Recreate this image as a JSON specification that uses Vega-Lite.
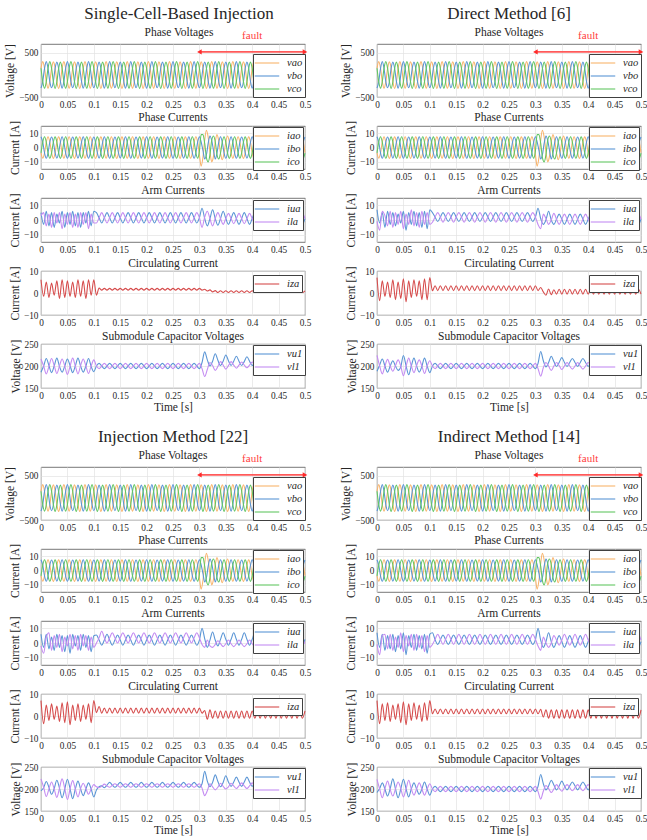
{
"$schema": "https://vega.github.io/schema/vega-lite/v6.json",
"padding": {"left": 4, "top": 4, "right": 0, "bottom": 0},
"background": "white",
"config": {
 "font": "Liberation Serif",
 "view": {"stroke": "#555555", "strokeWidth": 0.8},
 "line": {"strokeWidth": 1.1},
 "axis": {"labelFont": "Liberation Serif", "labelFontSize": 9.3, "labelColor": "#262626", "titleFont": "Liberation Serif", "titleFontSize": 11.5, "titleFontWeight": "normal", "titleColor": "#262626", "gridColor": "#e3e3e3", "gridWidth": 0.7, "domain": false, "ticks": false, "labelPadding": 3, "titlePadding": 3, "labelFlush": false, "labelOverlap": false},
 "axisX": {"tickCount": 10, "titlePadding": 1},
 "title": {"font": "Liberation Serif", "fontSize": 11.5, "fontWeight": "normal", "color": "#262626", "offset": -3, "anchor": "middle", "subtitleFont": "Liberation Serif", "subtitleColor": "#262626"},
 "legend": {"orient": "none", "fillColor": "white", "strokeColor": "#404040", "padding": 2, "symbolType": "M-2,0H2", "symbolSize": 150, "symbolOffset": 5, "symbolStrokeWidth": 1.3, "labelFont": "Liberation Serif", "labelFontSize": 10.5, "labelFontStyle": "italic", "labelColor": "#262626", "rowPadding": 0, "labelOffset": 13}
},
"datasets": {
"pv": [
{"t":0,"vao":150,"vbo":-300,"vco":150,"iao":-3.8,"ibo":7.5,"ico":-3.8},
{"t":0.0033,"vao":300,"vbo":-150,"vco":-150,"iao":-7.5,"ibo":3.8,"ico":3.8},
{"t":0.0067,"vao":150,"vbo":150,"vco":-300,"iao":-3.8,"ibo":-3.8,"ico":7.5},
{"t":0.01,"vao":-150,"vbo":300,"vco":-150,"iao":3.8,"ibo":-7.5,"ico":3.8},
{"t":0.0133,"vao":-300,"vbo":150,"vco":150,"iao":7.5,"ibo":-3.8,"ico":-3.8},
{"t":0.0167,"vao":-150,"vbo":-150,"vco":300,"iao":3.8,"ibo":3.8,"ico":-7.5},
{"t":0.02,"vao":140,"vbo":-290,"vco":155,"iao":-3.6,"ibo":7.3,"ico":-3.9},
{"t":0.0233,"vao":295,"vbo":-160,"vco":-140,"iao":-7.6,"ibo":3.9,"ico":3.6},
{"t":0.0267,"vao":160,"vbo":145,"vco":-305,"iao":-3.9,"ibo":-3.6,"ico":7.4},
{"t":0.03,"vao":-145,"vbo":290,"vco":-160,"iao":3.7,"ibo":-7.4,"ico":3.9},
{"t":0.0333,"vao":-305,"vbo":155,"vco":140,"iao":7.4,"ibo":-3.9,"ico":-3.6},
{"t":0.0367,"vao":-160,"vbo":-140,"vco":290,"iao":3.9,"ibo":3.6,"ico":-7.6},
{"t":0.04,"vao":150,"vbo":-300,"vco":150,"iao":-3.8,"ibo":7.5,"ico":-3.8},
{"t":0.0433,"vao":300,"vbo":-150,"vco":-150,"iao":-7.5,"ibo":3.8,"ico":3.8},
{"t":0.0467,"vao":150,"vbo":150,"vco":-300,"iao":-3.8,"ibo":-3.8,"ico":7.5},
{"t":0.05,"vao":-150,"vbo":300,"vco":-150,"iao":3.8,"ibo":-7.5,"ico":3.8},
{"t":0.0533,"vao":-300,"vbo":150,"vco":150,"iao":7.5,"ibo":-3.8,"ico":-3.8},
{"t":0.0567,"vao":-150,"vbo":-150,"vco":300,"iao":3.8,"ibo":3.8,"ico":-7.5},
{"t":0.06,"vao":140,"vbo":-290,"vco":155,"iao":-3.6,"ibo":7.3,"ico":-3.9},
{"t":0.0633,"vao":295,"vbo":-160,"vco":-140,"iao":-7.6,"ibo":3.9,"ico":3.6},
{"t":0.0667,"vao":160,"vbo":145,"vco":-305,"iao":-3.9,"ibo":-3.6,"ico":7.4},
{"t":0.07,"vao":-145,"vbo":290,"vco":-160,"iao":3.7,"ibo":-7.4,"ico":3.9},
{"t":0.0733,"vao":-305,"vbo":155,"vco":140,"iao":7.4,"ibo":-3.9,"ico":-3.6},
{"t":0.0767,"vao":-160,"vbo":-140,"vco":290,"iao":3.9,"ibo":3.6,"ico":-7.6},
{"t":0.08,"vao":150,"vbo":-300,"vco":150,"iao":-3.8,"ibo":7.5,"ico":-3.8},
{"t":0.0833,"vao":300,"vbo":-150,"vco":-150,"iao":-7.5,"ibo":3.8,"ico":3.8},
{"t":0.0867,"vao":150,"vbo":150,"vco":-300,"iao":-3.8,"ibo":-3.8,"ico":7.5},
{"t":0.09,"vao":-150,"vbo":300,"vco":-150,"iao":3.8,"ibo":-7.5,"ico":3.8},
{"t":0.0933,"vao":-300,"vbo":150,"vco":150,"iao":7.5,"ibo":-3.8,"ico":-3.8},
{"t":0.0967,"vao":-150,"vbo":-150,"vco":300,"iao":3.8,"ibo":3.8,"ico":-7.5},
{"t":0.1,"vao":140,"vbo":-290,"vco":155,"iao":-3.6,"ibo":7.3,"ico":-3.9},
{"t":0.1033,"vao":295,"vbo":-160,"vco":-140,"iao":-7.6,"ibo":3.9,"ico":3.6},
{"t":0.1067,"vao":160,"vbo":145,"vco":-305,"iao":-3.9,"ibo":-3.6,"ico":7.4},
{"t":0.11,"vao":-145,"vbo":290,"vco":-160,"iao":3.7,"ibo":-7.4,"ico":3.9},
{"t":0.1133,"vao":-305,"vbo":155,"vco":140,"iao":7.4,"ibo":-3.9,"ico":-3.6},
{"t":0.1167,"vao":-160,"vbo":-140,"vco":290,"iao":3.9,"ibo":3.6,"ico":-7.6},
{"t":0.12,"vao":150,"vbo":-300,"vco":150,"iao":-3.8,"ibo":7.5,"ico":-3.8},
{"t":0.1233,"vao":300,"vbo":-150,"vco":-150,"iao":-7.5,"ibo":3.8,"ico":3.8},
{"t":0.1267,"vao":150,"vbo":150,"vco":-300,"iao":-3.8,"ibo":-3.8,"ico":7.5},
{"t":0.13,"vao":-150,"vbo":300,"vco":-150,"iao":3.8,"ibo":-7.5,"ico":3.8},
{"t":0.1333,"vao":-300,"vbo":150,"vco":150,"iao":7.5,"ibo":-3.8,"ico":-3.8},
{"t":0.1367,"vao":-150,"vbo":-150,"vco":300,"iao":3.8,"ibo":3.8,"ico":-7.5},
{"t":0.14,"vao":140,"vbo":-290,"vco":155,"iao":-3.6,"ibo":7.3,"ico":-3.9},
{"t":0.1433,"vao":295,"vbo":-160,"vco":-140,"iao":-7.6,"ibo":3.9,"ico":3.6},
{"t":0.1467,"vao":160,"vbo":145,"vco":-305,"iao":-3.9,"ibo":-3.6,"ico":7.4},
{"t":0.15,"vao":-145,"vbo":290,"vco":-160,"iao":3.7,"ibo":-7.4,"ico":3.9},
{"t":0.1533,"vao":-305,"vbo":155,"vco":140,"iao":7.4,"ibo":-3.9,"ico":-3.6},
{"t":0.1567,"vao":-160,"vbo":-140,"vco":290,"iao":3.9,"ibo":3.6,"ico":-7.6},
{"t":0.16,"vao":150,"vbo":-300,"vco":150,"iao":-3.8,"ibo":7.5,"ico":-3.8},
{"t":0.1633,"vao":300,"vbo":-150,"vco":-150,"iao":-7.5,"ibo":3.8,"ico":3.8},
{"t":0.1667,"vao":150,"vbo":150,"vco":-300,"iao":-3.8,"ibo":-3.8,"ico":7.5},
{"t":0.17,"vao":-150,"vbo":300,"vco":-150,"iao":3.8,"ibo":-7.5,"ico":3.8},
{"t":0.1733,"vao":-300,"vbo":150,"vco":150,"iao":7.5,"ibo":-3.8,"ico":-3.8},
{"t":0.1767,"vao":-150,"vbo":-150,"vco":300,"iao":3.8,"ibo":3.8,"ico":-7.5},
{"t":0.18,"vao":140,"vbo":-290,"vco":155,"iao":-3.6,"ibo":7.3,"ico":-3.9},
{"t":0.1833,"vao":295,"vbo":-160,"vco":-140,"iao":-7.6,"ibo":3.9,"ico":3.6},
{"t":0.1867,"vao":160,"vbo":145,"vco":-305,"iao":-3.9,"ibo":-3.6,"ico":7.4},
{"t":0.19,"vao":-145,"vbo":290,"vco":-160,"iao":3.7,"ibo":-7.4,"ico":3.9},
{"t":0.1933,"vao":-305,"vbo":155,"vco":140,"iao":7.4,"ibo":-3.9,"ico":-3.6},
{"t":0.1967,"vao":-160,"vbo":-140,"vco":290,"iao":3.9,"ibo":3.6,"ico":-7.6},
{"t":0.2,"vao":150,"vbo":-300,"vco":150,"iao":-3.8,"ibo":7.5,"ico":-3.8},
{"t":0.2033,"vao":300,"vbo":-150,"vco":-150,"iao":-7.5,"ibo":3.8,"ico":3.8},
{"t":0.2067,"vao":150,"vbo":150,"vco":-300,"iao":-3.8,"ibo":-3.8,"ico":7.5},
{"t":0.21,"vao":-150,"vbo":300,"vco":-150,"iao":3.8,"ibo":-7.5,"ico":3.8},
{"t":0.2133,"vao":-300,"vbo":150,"vco":150,"iao":7.5,"ibo":-3.8,"ico":-3.8},
{"t":0.2167,"vao":-150,"vbo":-150,"vco":300,"iao":3.8,"ibo":3.8,"ico":-7.5},
{"t":0.22,"vao":140,"vbo":-290,"vco":155,"iao":-3.6,"ibo":7.3,"ico":-3.9},
{"t":0.2233,"vao":295,"vbo":-160,"vco":-140,"iao":-7.6,"ibo":3.9,"ico":3.6},
{"t":0.2267,"vao":160,"vbo":145,"vco":-305,"iao":-3.9,"ibo":-3.6,"ico":7.4},
{"t":0.23,"vao":-145,"vbo":290,"vco":-160,"iao":3.7,"ibo":-7.4,"ico":3.9},
{"t":0.2333,"vao":-305,"vbo":155,"vco":140,"iao":7.4,"ibo":-3.9,"ico":-3.6},
{"t":0.2367,"vao":-160,"vbo":-140,"vco":290,"iao":3.9,"ibo":3.6,"ico":-7.6},
{"t":0.24,"vao":150,"vbo":-300,"vco":150,"iao":-3.8,"ibo":7.5,"ico":-3.8},
{"t":0.2433,"vao":300,"vbo":-150,"vco":-150,"iao":-7.5,"ibo":3.8,"ico":3.8},
{"t":0.2467,"vao":150,"vbo":150,"vco":-300,"iao":-3.8,"ibo":-3.8,"ico":7.5},
{"t":0.25,"vao":-150,"vbo":300,"vco":-150,"iao":3.8,"ibo":-7.5,"ico":3.8},
{"t":0.2533,"vao":-300,"vbo":150,"vco":150,"iao":7.5,"ibo":-3.8,"ico":-3.8},
{"t":0.2567,"vao":-150,"vbo":-150,"vco":300,"iao":3.8,"ibo":3.8,"ico":-7.5},
{"t":0.26,"vao":140,"vbo":-290,"vco":155,"iao":-3.6,"ibo":7.3,"ico":-3.9},
{"t":0.2633,"vao":295,"vbo":-160,"vco":-140,"iao":-7.6,"ibo":3.9,"ico":3.6},
{"t":0.2667,"vao":160,"vbo":145,"vco":-305,"iao":-3.9,"ibo":-3.6,"ico":7.4},
{"t":0.27,"vao":-145,"vbo":290,"vco":-160,"iao":3.7,"ibo":-7.4,"ico":3.9},
{"t":0.2733,"vao":-305,"vbo":155,"vco":140,"iao":7.4,"ibo":-3.9,"ico":-3.6},
{"t":0.2767,"vao":-160,"vbo":-140,"vco":290,"iao":3.9,"ibo":3.6,"ico":-7.6},
{"t":0.28,"vao":150,"vbo":-300,"vco":150,"iao":-3.8,"ibo":7.5,"ico":-3.8},
{"t":0.2833,"vao":300,"vbo":-150,"vco":-150,"iao":-7.5,"ibo":3.8,"ico":3.8},
{"t":0.2867,"vao":150,"vbo":150,"vco":-300,"iao":-3.8,"ibo":-3.8,"ico":7.5},
{"t":0.29,"vao":-150,"vbo":300,"vco":-150,"iao":3.8,"ibo":-7.5,"ico":3.8},
{"t":0.2933,"vao":-300,"vbo":150,"vco":150,"iao":7.5,"ibo":-3.8,"ico":-3.8},
{"t":0.2967,"vao":-150,"vbo":-150,"vco":300,"iao":3.8,"ibo":3.8,"ico":-7.5},
{"t":0.3,"vao":140,"vbo":-290,"vco":155,"iao":-5,"ibo":7.5,"ico":-2.5},
{"t":0.3033,"vao":295,"vbo":-160,"vco":-140,"iao":-13,"ibo":4,"ico":9},
{"t":0.3067,"vao":160,"vbo":145,"vco":-305,"iao":-7,"ibo":-2,"ico":9},
{"t":0.31,"vao":-145,"vbo":290,"vco":-160,"iao":5,"ibo":-8,"ico":3},
{"t":0.3133,"vao":-305,"vbo":155,"vco":140,"iao":12,"ibo":-5,"ico":-7},
{"t":0.3167,"vao":-160,"vbo":-140,"vco":290,"iao":7,"ibo":3,"ico":-10},
{"t":0.32,"vao":150,"vbo":-300,"vco":150,"iao":-3,"ibo":8,"ico":-5},
{"t":0.3233,"vao":300,"vbo":-150,"vco":-150,"iao":-10,"ibo":5,"ico":5},
{"t":0.3267,"vao":150,"vbo":150,"vco":-300,"iao":-6,"ibo":-2,"ico":8},
{"t":0.33,"vao":-150,"vbo":300,"vco":-150,"iao":4,"ibo":-8,"ico":4},
{"t":0.3333,"vao":-300,"vbo":150,"vco":150,"iao":9,"ibo":-4,"ico":-5},
{"t":0.3367,"vao":-150,"vbo":-150,"vco":300,"iao":4.5,"ibo":3.8,"ico":-8},
{"t":0.34,"vao":140,"vbo":-290,"vco":155,"iao":-4,"ibo":7.5,"ico":-3.8},
{"t":0.3433,"vao":295,"vbo":-160,"vco":-140,"iao":-8.5,"ibo":3.8,"ico":3.8},
{"t":0.3467,"vao":160,"vbo":145,"vco":-305,"iao":-4,"ibo":-3.8,"ico":7.5},
{"t":0.35,"vao":-145,"vbo":290,"vco":-160,"iao":3.8,"ibo":-7.5,"ico":3.8},
{"t":0.3533,"vao":-305,"vbo":155,"vco":140,"iao":8,"ibo":-3.8,"ico":-3.8},
{"t":0.3567,"vao":-160,"vbo":-140,"vco":290,"iao":3.9,"ibo":3.6,"ico":-7.6},
{"t":0.36,"vao":150,"vbo":-300,"vco":150,"iao":-3.8,"ibo":7.5,"ico":-3.8},
{"t":0.3633,"vao":300,"vbo":-150,"vco":-150,"iao":-7.5,"ibo":3.8,"ico":3.8},
{"t":0.3667,"vao":150,"vbo":150,"vco":-300,"iao":-3.8,"ibo":-3.8,"ico":7.5},
{"t":0.37,"vao":-150,"vbo":300,"vco":-150,"iao":3.8,"ibo":-7.5,"ico":3.8},
{"t":0.3733,"vao":-300,"vbo":150,"vco":150,"iao":7.5,"ibo":-3.8,"ico":-3.8},
{"t":0.3767,"vao":-150,"vbo":-150,"vco":300,"iao":3.8,"ibo":3.8,"ico":-7.5},
{"t":0.38,"vao":140,"vbo":-290,"vco":155,"iao":-3.6,"ibo":7.3,"ico":-3.9},
{"t":0.3833,"vao":295,"vbo":-160,"vco":-140,"iao":-7.6,"ibo":3.9,"ico":3.6},
{"t":0.3867,"vao":160,"vbo":145,"vco":-305,"iao":-3.9,"ibo":-3.6,"ico":7.4},
{"t":0.39,"vao":-145,"vbo":290,"vco":-160,"iao":3.7,"ibo":-7.4,"ico":3.9},
{"t":0.3933,"vao":-305,"vbo":155,"vco":140,"iao":7.4,"ibo":-3.9,"ico":-3.6},
{"t":0.3967,"vao":-160,"vbo":-140,"vco":290,"iao":3.9,"ibo":3.6,"ico":-7.6},
{"t":0.4,"vao":150,"vbo":-300,"vco":150,"iao":-3.8,"ibo":7.5,"ico":-3.8},
{"t":0.4033,"vao":300,"vbo":-150,"vco":-150,"iao":-7.5,"ibo":3.8,"ico":3.8},
{"t":0.4067,"vao":150,"vbo":150,"vco":-300,"iao":-3.8,"ibo":-3.8,"ico":7.5},
{"t":0.41,"vao":-150,"vbo":300,"vco":-150,"iao":3.8,"ibo":-7.5,"ico":3.8},
{"t":0.4133,"vao":-300,"vbo":150,"vco":150,"iao":7.5,"ibo":-3.8,"ico":-3.8},
{"t":0.4167,"vao":-150,"vbo":-150,"vco":300,"iao":3.8,"ibo":3.8,"ico":-7.5},
{"t":0.42,"vao":140,"vbo":-290,"vco":155,"iao":-3.6,"ibo":7.3,"ico":-3.9},
{"t":0.4233,"vao":295,"vbo":-160,"vco":-140,"iao":-7.6,"ibo":3.9,"ico":3.6},
{"t":0.4267,"vao":160,"vbo":145,"vco":-305,"iao":-3.9,"ibo":-3.6,"ico":7.4},
{"t":0.43,"vao":-145,"vbo":290,"vco":-160,"iao":3.7,"ibo":-7.4,"ico":3.9},
{"t":0.4333,"vao":-305,"vbo":155,"vco":140,"iao":7.4,"ibo":-3.9,"ico":-3.6},
{"t":0.4367,"vao":-160,"vbo":-140,"vco":290,"iao":3.9,"ibo":3.6,"ico":-7.6},
{"t":0.44,"vao":150,"vbo":-300,"vco":150,"iao":-3.8,"ibo":7.5,"ico":-3.8},
{"t":0.4433,"vao":300,"vbo":-150,"vco":-150,"iao":-7.5,"ibo":3.8,"ico":3.8},
{"t":0.4467,"vao":150,"vbo":150,"vco":-300,"iao":-3.8,"ibo":-3.8,"ico":7.5},
{"t":0.45,"vao":-150,"vbo":300,"vco":-150,"iao":3.8,"ibo":-7.5,"ico":3.8},
{"t":0.4533,"vao":-300,"vbo":150,"vco":150,"iao":7.5,"ibo":-3.8,"ico":-3.8},
{"t":0.4567,"vao":-150,"vbo":-150,"vco":300,"iao":3.8,"ibo":3.8,"ico":-7.5},
{"t":0.46,"vao":140,"vbo":-290,"vco":155,"iao":-3.6,"ibo":7.3,"ico":-3.9},
{"t":0.4633,"vao":295,"vbo":-160,"vco":-140,"iao":-7.6,"ibo":3.9,"ico":3.6},
{"t":0.4667,"vao":160,"vbo":145,"vco":-305,"iao":-3.9,"ibo":-3.6,"ico":7.4},
{"t":0.47,"vao":-145,"vbo":290,"vco":-160,"iao":3.7,"ibo":-7.4,"ico":3.9},
{"t":0.4733,"vao":-305,"vbo":155,"vco":140,"iao":7.4,"ibo":-3.9,"ico":-3.6},
{"t":0.4767,"vao":-160,"vbo":-140,"vco":290,"iao":3.9,"ibo":3.6,"ico":-7.6},
{"t":0.48,"vao":150,"vbo":-300,"vco":150,"iao":-3.8,"ibo":7.5,"ico":-3.8},
{"t":0.4833,"vao":300,"vbo":-150,"vco":-150,"iao":-7.5,"ibo":3.8,"ico":3.8},
{"t":0.4867,"vao":150,"vbo":150,"vco":-300,"iao":-3.8,"ibo":-3.8,"ico":7.5},
{"t":0.49,"vao":-150,"vbo":300,"vco":-150,"iao":3.8,"ibo":-7.5,"ico":3.8},
{"t":0.4933,"vao":-300,"vbo":150,"vco":150,"iao":7.5,"ibo":-3.8,"ico":-3.8},
{"t":0.4967,"vao":-150,"vbo":-150,"vco":300,"iao":3.8,"ibo":3.8,"ico":-7.5},
{"t":0.5,"vao":140,"vbo":-290,"vco":155,"iao":-3.6,"ibo":7.3,"ico":-3.9}
],
"g1": [
{"t":0,"iua":5,"ila":3,"iza":6,"vu1":186,"vl1":216},
{"t":0.005,"iua":-3,"ila":5,"iza":-1.5,"vu1":200,"vl1":200},
{"t":0.01,"iua":6,"ila":-4,"iza":5,"vu1":217,"vl1":182},
{"t":0.015,"iua":-4,"ila":4,"iza":-2,"vu1":201,"vl1":199},
{"t":0.02,"iua":5,"ila":-5,"iza":4.5,"vu1":185,"vl1":217},
{"t":0.025,"iua":-5,"ila":5,"iza":-1,"vu1":200,"vl1":201},
{"t":0.03,"iua":4,"ila":-2,"iza":5.5,"vu1":218,"vl1":183},
{"t":0.035,"iua":-2,"ila":5,"iza":-2.5,"vu1":199,"vl1":200},
{"t":0.04,"iua":6,"ila":-6,"iza":6,"vu1":186,"vl1":216},
{"t":0.045,"iua":-5,"ila":4,"iza":-2,"vu1":200,"vl1":200},
{"t":0.05,"iua":5,"ila":-3,"iza":5.5,"vu1":216,"vl1":181},
{"t":0.055,"iua":-3,"ila":5,"iza":-1.5,"vu1":201,"vl1":199},
{"t":0.06,"iua":6,"ila":-5,"iza":5,"vu1":185,"vl1":218},
{"t":0.065,"iua":-4,"ila":4,"iza":-2,"vu1":200,"vl1":200},
{"t":0.07,"iua":5,"ila":-5,"iza":6,"vu1":218,"vl1":182},
{"t":0.075,"iua":-5,"ila":5,"iza":-1.5,"vu1":200,"vl1":201},
{"t":0.08,"iua":5,"ila":-3,"iza":5.5,"vu1":186,"vl1":216},
{"t":0.085,"iua":-2,"ila":5,"iza":-2.5,"vu1":200,"vl1":200},
{"t":0.09,"iua":6,"ila":-6,"iza":6,"vu1":217,"vl1":183},
{"t":0.095,"iua":-4,"ila":4,"iza":-1,"vu1":199,"vl1":200},
{"t":0.1,"iua":6,"ila":-2,"iza":6,"vu1":187,"vl1":214},
{"t":0.105,"iua":5,"ila":-2,"iza":-1,"vu1":200,"vl1":200},
{"t":0.11,"iua":1.5,"ila":1.5,"iza":2.2,"vu1":206,"vl1":194},
{"t":0.115,"iua":-2,"ila":5,"iza":1.3,"vu1":200,"vl1":200},
{"t":0.12,"iua":1.5,"ila":1.5,"iza":2.1,"vu1":194,"vl1":206},
{"t":0.125,"iua":5,"ila":-2,"iza":1.3,"vu1":200,"vl1":200},
{"t":0.13,"iua":1.5,"ila":1.5,"iza":2.1,"vu1":206,"vl1":194},
{"t":0.135,"iua":-2,"ila":5,"iza":1.3,"vu1":200,"vl1":200},
{"t":0.14,"iua":1.5,"ila":1.5,"iza":2.1,"vu1":194,"vl1":206},
{"t":0.145,"iua":5,"ila":-2,"iza":1.3,"vu1":200,"vl1":200},
{"t":0.15,"iua":1.5,"ila":1.5,"iza":2.1,"vu1":206,"vl1":194},
{"t":0.155,"iua":-2,"ila":5,"iza":1.3,"vu1":200,"vl1":200},
{"t":0.16,"iua":1.5,"ila":1.5,"iza":2.1,"vu1":194,"vl1":206},
{"t":0.165,"iua":5,"ila":-2,"iza":1.3,"vu1":200,"vl1":200},
{"t":0.17,"iua":1.5,"ila":1.5,"iza":2.1,"vu1":206,"vl1":194},
{"t":0.175,"iua":-2,"ila":5,"iza":1.3,"vu1":200,"vl1":200},
{"t":0.18,"iua":1.5,"ila":1.5,"iza":2.1,"vu1":194,"vl1":206},
{"t":0.185,"iua":5,"ila":-2,"iza":1.3,"vu1":200,"vl1":200},
{"t":0.19,"iua":1.5,"ila":1.5,"iza":2.1,"vu1":206,"vl1":194},
{"t":0.195,"iua":-2,"ila":5,"iza":1.3,"vu1":200,"vl1":200},
{"t":0.2,"iua":1.5,"ila":1.5,"iza":2.1,"vu1":194,"vl1":206},
{"t":0.205,"iua":5,"ila":-2,"iza":1.3,"vu1":200,"vl1":200},
{"t":0.21,"iua":1.5,"ila":1.5,"iza":2.1,"vu1":206,"vl1":194},
{"t":0.215,"iua":-2,"ila":5,"iza":1.3,"vu1":200,"vl1":200},
{"t":0.22,"iua":1.5,"ila":1.5,"iza":2.1,"vu1":194,"vl1":206},
{"t":0.225,"iua":5,"ila":-2,"iza":1.3,"vu1":200,"vl1":200},
{"t":0.23,"iua":1.5,"ila":1.5,"iza":2.1,"vu1":206,"vl1":194},
{"t":0.235,"iua":-2,"ila":5,"iza":1.3,"vu1":200,"vl1":200},
{"t":0.24,"iua":1.5,"ila":1.5,"iza":2.1,"vu1":194,"vl1":206},
{"t":0.245,"iua":5,"ila":-2,"iza":1.3,"vu1":200,"vl1":200},
{"t":0.25,"iua":1.5,"ila":1.5,"iza":2.1,"vu1":206,"vl1":194},
{"t":0.255,"iua":-2,"ila":5,"iza":1.3,"vu1":200,"vl1":200},
{"t":0.26,"iua":1.5,"ila":1.5,"iza":2.1,"vu1":194,"vl1":206},
{"t":0.265,"iua":5,"ila":-2,"iza":1.3,"vu1":200,"vl1":200},
{"t":0.27,"iua":1.5,"ila":1.5,"iza":2.1,"vu1":206,"vl1":194},
{"t":0.275,"iua":-2,"ila":5,"iza":1.3,"vu1":200,"vl1":200},
{"t":0.28,"iua":1.5,"ila":1.5,"iza":2.1,"vu1":194,"vl1":206},
{"t":0.285,"iua":5,"ila":-2,"iza":1.3,"vu1":200,"vl1":200},
{"t":0.29,"iua":1.5,"ila":1.5,"iza":2.1,"vu1":206,"vl1":194},
{"t":0.295,"iua":-2,"ila":5,"iza":1.3,"vu1":200,"vl1":200},
{"t":0.3,"iua":1.5,"ila":1.5,"iza":2.1,"vu1":194,"vl1":206},
{"t":0.305,"iua":8,"ila":-5,"iza":1.3,"vu1":208,"vl1":194},
{"t":0.31,"iua":1,"ila":2,"iza":1.7,"vu1":232,"vl1":176},
{"t":0.315,"iua":-4,"ila":6,"iza":0.9,"vu1":214,"vl1":192},
{"t":0.32,"iua":1,"ila":1,"iza":1.4,"vu1":200,"vl1":208},
{"t":0.325,"iua":7,"ila":-4,"iza":0.5,"vu1":211,"vl1":201},
{"t":0.33,"iua":1,"ila":1,"iza":1.1,"vu1":228,"vl1":190},
{"t":0.335,"iua":-3.5,"ila":5,"iza":0.2,"vu1":213,"vl1":199},
{"t":0.34,"iua":1,"ila":1,"iza":1,"vu1":201,"vl1":210},
{"t":0.345,"iua":6,"ila":-3,"iza":0.2,"vu1":211,"vl1":202},
{"t":0.35,"iua":1,"ila":1,"iza":1,"vu1":225,"vl1":193},
{"t":0.355,"iua":-3,"ila":4.5,"iza":0.2,"vu1":212,"vl1":201},
{"t":0.36,"iua":1,"ila":1,"iza":1,"vu1":201,"vl1":210},
{"t":0.365,"iua":5,"ila":-2.5,"iza":0.2,"vu1":211,"vl1":202},
{"t":0.37,"iua":1,"ila":1,"iza":1,"vu1":222,"vl1":195},
{"t":0.375,"iua":-3,"ila":4.5,"iza":0.2,"vu1":211,"vl1":202},
{"t":0.38,"iua":1,"ila":1,"iza":1,"vu1":201,"vl1":209},
{"t":0.385,"iua":5,"ila":-2.5,"iza":0.2,"vu1":210,"vl1":202},
{"t":0.39,"iua":1,"ila":1,"iza":1,"vu1":221,"vl1":196},
{"t":0.395,"iua":-3,"ila":4.5,"iza":0.2,"vu1":211,"vl1":202},
{"t":0.4,"iua":1,"ila":1,"iza":1,"vu1":201,"vl1":209},
{"t":0.405,"iua":5,"ila":-2.5,"iza":0.2,"vu1":210,"vl1":202},
{"t":0.41,"iua":1,"ila":1,"iza":1,"vu1":220,"vl1":196},
{"t":0.415,"iua":-3,"ila":4.5,"iza":0.2,"vu1":210,"vl1":202},
{"t":0.42,"iua":1,"ila":1,"iza":1,"vu1":201,"vl1":209},
{"t":0.425,"iua":5,"ila":-2.5,"iza":0.2,"vu1":210,"vl1":202},
{"t":0.43,"iua":1,"ila":1,"iza":1,"vu1":220,"vl1":196},
{"t":0.435,"iua":-3,"ila":4.5,"iza":0.2,"vu1":210,"vl1":202},
{"t":0.44,"iua":1,"ila":1,"iza":1,"vu1":201,"vl1":209},
{"t":0.445,"iua":5,"ila":-2.5,"iza":0.2,"vu1":210,"vl1":202},
{"t":0.45,"iua":1,"ila":1,"iza":1,"vu1":220,"vl1":196},
{"t":0.455,"iua":-3,"ila":4.5,"iza":0.2,"vu1":210,"vl1":202},
{"t":0.46,"iua":1,"ila":1,"iza":1,"vu1":201,"vl1":209},
{"t":0.465,"iua":5,"ila":-2.5,"iza":0.2,"vu1":210,"vl1":202},
{"t":0.47,"iua":1,"ila":1,"iza":1,"vu1":220,"vl1":196},
{"t":0.475,"iua":-3,"ila":4.5,"iza":0.2,"vu1":210,"vl1":202},
{"t":0.48,"iua":1,"ila":1,"iza":1,"vu1":201,"vl1":209},
{"t":0.485,"iua":5,"ila":-2.5,"iza":0.2,"vu1":210,"vl1":202},
{"t":0.49,"iua":1,"ila":1,"iza":1,"vu1":220,"vl1":196},
{"t":0.495,"iua":-3,"ila":4.5,"iza":0.2,"vu1":210,"vl1":202},
{"t":0.5,"iua":1,"ila":1,"iza":1,"vu1":201,"vl1":209}
],
"g2": [
{"t":0,"iua":7,"ila":-1,"iza":7,"vu1":188,"vl1":224},
{"t":0.005,"iua":-2,"ila":-7,"iza":-3.5,"vu1":202,"vl1":200},
{"t":0.01,"iua":5,"ila":6,"iza":5.5,"vu1":216,"vl1":182},
{"t":0.015,"iua":-5,"ila":3,"iza":-1.5,"vu1":200,"vl1":200},
{"t":0.02,"iua":6,"ila":-4,"iza":5,"vu1":186,"vl1":215},
{"t":0.025,"iua":-3,"ila":6,"iza":-2,"vu1":200,"vl1":200},
{"t":0.03,"iua":5,"ila":-5,"iza":6,"vu1":212,"vl1":188},
{"t":0.035,"iua":-4,"ila":5,"iza":-3,"vu1":200,"vl1":201},
{"t":0.04,"iua":4,"ila":-3,"iza":5,"vu1":190,"vl1":214},
{"t":0.045,"iua":-2,"ila":6,"iza":-2.5,"vu1":198,"vl1":200},
{"t":0.05,"iua":6,"ila":-6,"iza":6.5,"vu1":224,"vl1":178},
{"t":0.055,"iua":-7,"ila":4,"iza":-4,"vu1":201,"vl1":199},
{"t":0.06,"iua":5,"ila":-3,"iza":5.5,"vu1":180,"vl1":218},
{"t":0.065,"iua":-3,"ila":7,"iza":-2,"vu1":200,"vl1":200},
{"t":0.07,"iua":6,"ila":-4,"iza":6,"vu1":218,"vl1":185},
{"t":0.075,"iua":-4,"ila":5,"iza":-1.5,"vu1":200,"vl1":201},
{"t":0.08,"iua":5,"ila":-5,"iza":5.5,"vu1":186,"vl1":214},
{"t":0.085,"iua":-5,"ila":6,"iza":-3,"vu1":199,"vl1":200},
{"t":0.09,"iua":6,"ila":-3,"iza":6.5,"vu1":218,"vl1":183},
{"t":0.095,"iua":-6,"ila":5,"iza":-3,"vu1":200,"vl1":200},
{"t":0.1,"iua":7,"ila":-3,"iza":7,"vu1":185,"vl1":212},
{"t":0.105,"iua":5,"ila":-1.5,"iza":1,"vu1":200,"vl1":200},
{"t":0.11,"iua":2,"ila":2,"iza":3.3,"vu1":206,"vl1":194},
{"t":0.115,"iua":-1,"ila":5,"iza":1.1,"vu1":200,"vl1":200},
{"t":0.12,"iua":2,"ila":2,"iza":3.3,"vu1":194,"vl1":206},
{"t":0.125,"iua":5,"ila":-1.5,"iza":1.1,"vu1":200,"vl1":200},
{"t":0.13,"iua":2,"ila":2,"iza":3.3,"vu1":206,"vl1":194},
{"t":0.135,"iua":-1,"ila":5,"iza":1.1,"vu1":200,"vl1":200},
{"t":0.14,"iua":2,"ila":2,"iza":3.3,"vu1":194,"vl1":206},
{"t":0.145,"iua":5,"ila":-1.5,"iza":1.1,"vu1":200,"vl1":200},
{"t":0.15,"iua":2,"ila":2,"iza":3.3,"vu1":206,"vl1":194},
{"t":0.155,"iua":-1,"ila":5,"iza":1.1,"vu1":200,"vl1":200},
{"t":0.16,"iua":2,"ila":2,"iza":3.3,"vu1":194,"vl1":206},
{"t":0.165,"iua":5,"ila":-1.5,"iza":1.1,"vu1":200,"vl1":200},
{"t":0.17,"iua":2,"ila":2,"iza":3.3,"vu1":206,"vl1":194},
{"t":0.175,"iua":-1,"ila":5,"iza":1.1,"vu1":200,"vl1":200},
{"t":0.18,"iua":2,"ila":2,"iza":3.3,"vu1":194,"vl1":206},
{"t":0.185,"iua":5,"ila":-1.5,"iza":1.1,"vu1":200,"vl1":200},
{"t":0.19,"iua":2,"ila":2,"iza":3.3,"vu1":206,"vl1":194},
{"t":0.195,"iua":-1,"ila":5,"iza":1.1,"vu1":200,"vl1":200},
{"t":0.2,"iua":2,"ila":2,"iza":3.3,"vu1":194,"vl1":206},
{"t":0.205,"iua":5,"ila":-1.5,"iza":1.1,"vu1":200,"vl1":200},
{"t":0.21,"iua":2,"ila":2,"iza":3.3,"vu1":206,"vl1":194},
{"t":0.215,"iua":-1,"ila":5,"iza":1.1,"vu1":200,"vl1":200},
{"t":0.22,"iua":2,"ila":2,"iza":3.3,"vu1":194,"vl1":206},
{"t":0.225,"iua":5,"ila":-1.5,"iza":1.1,"vu1":200,"vl1":200},
{"t":0.23,"iua":2,"ila":2,"iza":3.3,"vu1":206,"vl1":194},
{"t":0.235,"iua":-1,"ila":5,"iza":1.1,"vu1":200,"vl1":200},
{"t":0.24,"iua":2,"ila":2,"iza":3.3,"vu1":194,"vl1":206},
{"t":0.245,"iua":5,"ila":-1.5,"iza":1.1,"vu1":200,"vl1":200},
{"t":0.25,"iua":2,"ila":2,"iza":3.3,"vu1":206,"vl1":194},
{"t":0.255,"iua":-1,"ila":5,"iza":1.1,"vu1":200,"vl1":200},
{"t":0.26,"iua":2,"ila":2,"iza":3.3,"vu1":194,"vl1":206},
{"t":0.265,"iua":5,"ila":-1.5,"iza":1.1,"vu1":200,"vl1":200},
{"t":0.27,"iua":2,"ila":2,"iza":3.3,"vu1":206,"vl1":194},
{"t":0.275,"iua":-1,"ila":5,"iza":1.1,"vu1":200,"vl1":200},
{"t":0.28,"iua":2,"ila":2,"iza":3.3,"vu1":194,"vl1":206},
{"t":0.285,"iua":5,"ila":-1.5,"iza":1.1,"vu1":200,"vl1":200},
{"t":0.29,"iua":2,"ila":2,"iza":3.3,"vu1":206,"vl1":194},
{"t":0.295,"iua":-1,"ila":5,"iza":1.1,"vu1":200,"vl1":200},
{"t":0.3,"iua":2,"ila":2,"iza":3.3,"vu1":194,"vl1":206},
{"t":0.305,"iua":8,"ila":-3,"iza":1.1,"vu1":206,"vl1":194},
{"t":0.31,"iua":1,"ila":-6,"iza":2.5,"vu1":233,"vl1":177},
{"t":0.315,"iua":-3,"ila":4,"iza":0.5,"vu1":212,"vl1":196},
{"t":0.32,"iua":0,"ila":1,"iza":-1,"vu1":198,"vl1":208},
{"t":0.325,"iua":6,"ila":-3,"iza":1.8,"vu1":208,"vl1":200},
{"t":0.33,"iua":0,"ila":0,"iza":-0.8,"vu1":222,"vl1":190},
{"t":0.335,"iua":-3,"ila":4.5,"iza":1.5,"vu1":210,"vl1":200},
{"t":0.34,"iua":0.5,"ila":0.5,"iza":-0.5,"vu1":199,"vl1":208},
{"t":0.345,"iua":4,"ila":-3,"iza":1.7,"vu1":208,"vl1":201},
{"t":0.35,"iua":0.5,"ila":0.5,"iza":-0.5,"vu1":219,"vl1":192},
{"t":0.355,"iua":-3,"ila":4,"iza":1.7,"vu1":208,"vl1":200},
{"t":0.36,"iua":0.5,"ila":0.5,"iza":-0.5,"vu1":199,"vl1":208},
{"t":0.365,"iua":4,"ila":-3,"iza":1.7,"vu1":208,"vl1":200},
{"t":0.37,"iua":0.5,"ila":0.5,"iza":-0.5,"vu1":217,"vl1":193},
{"t":0.375,"iua":-3,"ila":4,"iza":1.7,"vu1":208,"vl1":200},
{"t":0.38,"iua":0.5,"ila":0.5,"iza":-0.5,"vu1":199,"vl1":208},
{"t":0.385,"iua":4,"ila":-3,"iza":1.7,"vu1":208,"vl1":200},
{"t":0.39,"iua":0.5,"ila":0.5,"iza":-0.5,"vu1":217,"vl1":193},
{"t":0.395,"iua":-3,"ila":4,"iza":1.7,"vu1":208,"vl1":200},
{"t":0.4,"iua":0.5,"ila":0.5,"iza":-0.5,"vu1":199,"vl1":208},
{"t":0.405,"iua":4,"ila":-3,"iza":1.7,"vu1":208,"vl1":200},
{"t":0.41,"iua":0.5,"ila":0.5,"iza":-0.5,"vu1":217,"vl1":193},
{"t":0.415,"iua":-3,"ila":4,"iza":1.7,"vu1":208,"vl1":200},
{"t":0.42,"iua":0.5,"ila":0.5,"iza":-0.5,"vu1":199,"vl1":208},
{"t":0.425,"iua":4,"ila":-3,"iza":1.7,"vu1":208,"vl1":200},
{"t":0.43,"iua":0.5,"ila":0.5,"iza":-0.5,"vu1":217,"vl1":193},
{"t":0.435,"iua":-3,"ila":4,"iza":1.7,"vu1":208,"vl1":200},
{"t":0.44,"iua":0.5,"ila":0.5,"iza":-0.5,"vu1":199,"vl1":208},
{"t":0.445,"iua":4,"ila":-3,"iza":1.7,"vu1":208,"vl1":200},
{"t":0.45,"iua":0.5,"ila":0.5,"iza":-0.5,"vu1":217,"vl1":193},
{"t":0.455,"iua":-3,"ila":4,"iza":1.7,"vu1":208,"vl1":200},
{"t":0.46,"iua":0.5,"ila":0.5,"iza":-0.5,"vu1":199,"vl1":208},
{"t":0.465,"iua":4,"ila":-3,"iza":1.7,"vu1":208,"vl1":200},
{"t":0.47,"iua":0.5,"ila":0.5,"iza":-0.5,"vu1":217,"vl1":193},
{"t":0.475,"iua":-3,"ila":4,"iza":1.7,"vu1":208,"vl1":200},
{"t":0.48,"iua":0.5,"ila":0.5,"iza":-0.5,"vu1":199,"vl1":208},
{"t":0.485,"iua":4,"ila":-3,"iza":1.7,"vu1":208,"vl1":200},
{"t":0.49,"iua":0.5,"ila":0.5,"iza":-0.5,"vu1":217,"vl1":193},
{"t":0.495,"iua":-3,"ila":4,"iza":1.7,"vu1":208,"vl1":200},
{"t":0.5,"iua":0.5,"ila":0.5,"iza":-0.5,"vu1":199,"vl1":208}
],
"g3": [
{"t":0,"iua":6,"ila":-2,"iza":7,"vu1":196,"vl1":223},
{"t":0.005,"iua":-3,"ila":-7,"iza":-3.5,"vu1":203,"vl1":204},
{"t":0.01,"iua":6,"ila":4,"iza":5,"vu1":217,"vl1":183},
{"t":0.015,"iua":-4,"ila":7,"iza":-2,"vu1":204,"vl1":200},
{"t":0.02,"iua":4,"ila":-5,"iza":5.5,"vu1":188,"vl1":216},
{"t":0.025,"iua":-5,"ila":5,"iza":-1.5,"vu1":201,"vl1":200},
{"t":0.03,"iua":6,"ila":-3,"iza":4.5,"vu1":220,"vl1":181},
{"t":0.035,"iua":-3,"ila":6,"iza":-2.5,"vu1":202,"vl1":202},
{"t":0.04,"iua":5,"ila":-6,"iza":6,"vu1":180,"vl1":223},
{"t":0.045,"iua":-6,"ila":4,"iza":-3,"vu1":200,"vl1":201},
{"t":0.05,"iua":5,"ila":-2,"iza":6.5,"vu1":222,"vl1":176},
{"t":0.055,"iua":-7,"ila":6,"iza":-4,"vu1":201,"vl1":200},
{"t":0.06,"iua":6,"ila":-4,"iza":5,"vu1":178,"vl1":219},
{"t":0.065,"iua":-2,"ila":5,"iza":-2,"vu1":200,"vl1":200},
{"t":0.07,"iua":5,"ila":-5,"iza":5.5,"vu1":218,"vl1":182},
{"t":0.075,"iua":-5,"ila":6,"iza":-2.5,"vu1":200,"vl1":201},
{"t":0.08,"iua":6,"ila":-2,"iza":5,"vu1":185,"vl1":213},
{"t":0.085,"iua":-3,"ila":5,"iza":-1.5,"vu1":200,"vl1":201},
{"t":0.09,"iua":5,"ila":-5,"iza":5.5,"vu1":214,"vl1":188},
{"t":0.095,"iua":-6,"ila":4,"iza":-3,"vu1":200,"vl1":200},
{"t":0.1,"iua":5,"ila":-3,"iza":7,"vu1":182,"vl1":210},
{"t":0.105,"iua":5.5,"ila":0,"iza":1.5,"vu1":198,"vl1":205},
{"t":0.11,"iua":2,"ila":3.5,"iza":4.3,"vu1":205,"vl1":203},
{"t":0.115,"iua":-1.5,"ila":8,"iza":1.3,"vu1":207,"vl1":206},
{"t":0.12,"iua":2,"ila":3.5,"iza":3.6,"vu1":203,"vl1":211},
{"t":0.125,"iua":6,"ila":0,"iza":1.3,"vu1":209,"vl1":207},
{"t":0.13,"iua":2,"ila":3.5,"iza":3.6,"vu1":215,"vl1":204},
{"t":0.135,"iua":-1.5,"ila":7,"iza":1.3,"vu1":209,"vl1":208},
{"t":0.14,"iua":2,"ila":3.5,"iza":3.6,"vu1":204,"vl1":212},
{"t":0.145,"iua":5.5,"ila":0,"iza":1.3,"vu1":209,"vl1":208},
{"t":0.15,"iua":2,"ila":3.5,"iza":3.6,"vu1":215,"vl1":204},
{"t":0.155,"iua":-1.5,"ila":7,"iza":1.3,"vu1":209,"vl1":208},
{"t":0.16,"iua":2,"ila":3.5,"iza":3.6,"vu1":204,"vl1":212},
{"t":0.165,"iua":5.5,"ila":0,"iza":1.3,"vu1":209,"vl1":208},
{"t":0.17,"iua":2,"ila":3.5,"iza":3.6,"vu1":215,"vl1":204},
{"t":0.175,"iua":-1.5,"ila":7,"iza":1.3,"vu1":209,"vl1":208},
{"t":0.18,"iua":2,"ila":3.5,"iza":3.6,"vu1":204,"vl1":212},
{"t":0.185,"iua":5.5,"ila":0,"iza":1.3,"vu1":209,"vl1":208},
{"t":0.19,"iua":2,"ila":3.5,"iza":3.6,"vu1":215,"vl1":204},
{"t":0.195,"iua":-1.5,"ila":7,"iza":1.3,"vu1":209,"vl1":208},
{"t":0.2,"iua":2,"ila":3.5,"iza":3.6,"vu1":204,"vl1":212},
{"t":0.205,"iua":5.5,"ila":0,"iza":1.3,"vu1":209,"vl1":208},
{"t":0.21,"iua":2,"ila":3.5,"iza":3.6,"vu1":215,"vl1":204},
{"t":0.215,"iua":-1.5,"ila":7,"iza":1.3,"vu1":209,"vl1":208},
{"t":0.22,"iua":2,"ila":3.5,"iza":3.6,"vu1":204,"vl1":212},
{"t":0.225,"iua":5.5,"ila":0,"iza":1.3,"vu1":209,"vl1":208},
{"t":0.23,"iua":2,"ila":3.5,"iza":3.6,"vu1":215,"vl1":204},
{"t":0.235,"iua":-1.5,"ila":7,"iza":1.3,"vu1":209,"vl1":208},
{"t":0.24,"iua":2,"ila":3.5,"iza":3.6,"vu1":204,"vl1":212},
{"t":0.245,"iua":5.5,"ila":0,"iza":1.3,"vu1":209,"vl1":208},
{"t":0.25,"iua":2,"ila":3.5,"iza":3.6,"vu1":215,"vl1":204},
{"t":0.255,"iua":-1.5,"ila":7,"iza":1.3,"vu1":209,"vl1":208},
{"t":0.26,"iua":2,"ila":3.5,"iza":3.6,"vu1":204,"vl1":212},
{"t":0.265,"iua":5.5,"ila":0,"iza":1.3,"vu1":209,"vl1":208},
{"t":0.27,"iua":2,"ila":3.5,"iza":3.6,"vu1":215,"vl1":204},
{"t":0.275,"iua":-1.5,"ila":7,"iza":1.3,"vu1":209,"vl1":208},
{"t":0.28,"iua":2,"ila":3.5,"iza":3.6,"vu1":204,"vl1":212},
{"t":0.285,"iua":5.5,"ila":0,"iza":1.3,"vu1":209,"vl1":208},
{"t":0.29,"iua":2,"ila":3.5,"iza":3.6,"vu1":215,"vl1":204},
{"t":0.295,"iua":-1.5,"ila":7,"iza":1.3,"vu1":209,"vl1":208},
{"t":0.3,"iua":2,"ila":3.5,"iza":3.6,"vu1":204,"vl1":212},
{"t":0.305,"iua":10,"ila":-1,"iza":1.3,"vu1":212,"vl1":202},
{"t":0.31,"iua":3,"ila":-3,"iza":2.5,"vu1":240,"vl1":185},
{"t":0.315,"iua":-3,"ila":2,"iza":-1.5,"vu1":218,"vl1":196},
{"t":0.32,"iua":2,"ila":-2,"iza":2.8,"vu1":205,"vl1":212},
{"t":0.325,"iua":7.5,"ila":-3,"iza":-1,"vu1":215,"vl1":205},
{"t":0.33,"iua":2,"ila":-1,"iza":2.3,"vu1":232,"vl1":198},
{"t":0.335,"iua":-2,"ila":1.5,"iza":-1,"vu1":217,"vl1":204},
{"t":0.34,"iua":2.5,"ila":-0.5,"iza":2.3,"vu1":205,"vl1":213},
{"t":0.345,"iua":7,"ila":-2.5,"iza":-1,"vu1":215,"vl1":206},
{"t":0.35,"iua":2.5,"ila":-0.5,"iza":2.3,"vu1":230,"vl1":200},
{"t":0.355,"iua":-1.5,"ila":2,"iza":-1,"vu1":216,"vl1":205},
{"t":0.36,"iua":2.5,"ila":-0.5,"iza":2.3,"vu1":206,"vl1":213},
{"t":0.365,"iua":7,"ila":-2.5,"iza":-1,"vu1":216,"vl1":207},
{"t":0.37,"iua":2.5,"ila":-0.5,"iza":2.3,"vu1":227,"vl1":201},
{"t":0.375,"iua":-1.5,"ila":2,"iza":-1,"vu1":216,"vl1":207},
{"t":0.38,"iua":2.5,"ila":-0.5,"iza":2.3,"vu1":206,"vl1":214},
{"t":0.385,"iua":7,"ila":-2.5,"iza":-1,"vu1":216,"vl1":207},
{"t":0.39,"iua":2.5,"ila":-0.5,"iza":2.3,"vu1":227,"vl1":201},
{"t":0.395,"iua":-1.5,"ila":2,"iza":-1,"vu1":216,"vl1":207},
{"t":0.4,"iua":2.5,"ila":-0.5,"iza":2.3,"vu1":206,"vl1":214},
{"t":0.405,"iua":7,"ila":-2.5,"iza":-1,"vu1":216,"vl1":207},
{"t":0.41,"iua":2.5,"ila":-0.5,"iza":2.3,"vu1":227,"vl1":201},
{"t":0.415,"iua":-1.5,"ila":2,"iza":-1,"vu1":216,"vl1":207},
{"t":0.42,"iua":2.5,"ila":-0.5,"iza":2.3,"vu1":206,"vl1":214},
{"t":0.425,"iua":7,"ila":-2.5,"iza":-1,"vu1":216,"vl1":207},
{"t":0.43,"iua":2.5,"ila":-0.5,"iza":2.3,"vu1":227,"vl1":201},
{"t":0.435,"iua":-1.5,"ila":2,"iza":-1,"vu1":216,"vl1":207},
{"t":0.44,"iua":2.5,"ila":-0.5,"iza":2.3,"vu1":206,"vl1":214},
{"t":0.445,"iua":7,"ila":-2.5,"iza":-1,"vu1":216,"vl1":207},
{"t":0.45,"iua":2.5,"ila":-0.5,"iza":2.3,"vu1":227,"vl1":201},
{"t":0.455,"iua":-1.5,"ila":2,"iza":-1,"vu1":216,"vl1":207},
{"t":0.46,"iua":2.5,"ila":-0.5,"iza":2.3,"vu1":206,"vl1":214},
{"t":0.465,"iua":7,"ila":-2.5,"iza":-1,"vu1":216,"vl1":207},
{"t":0.47,"iua":2.5,"ila":-0.5,"iza":2.3,"vu1":227,"vl1":201},
{"t":0.475,"iua":-1.5,"ila":2,"iza":-1,"vu1":216,"vl1":207},
{"t":0.48,"iua":2.5,"ila":-0.5,"iza":2.3,"vu1":206,"vl1":214},
{"t":0.485,"iua":7,"ila":-2.5,"iza":-1,"vu1":216,"vl1":207},
{"t":0.49,"iua":2.5,"ila":-0.5,"iza":2.3,"vu1":227,"vl1":201},
{"t":0.495,"iua":-1.5,"ila":2,"iza":-1,"vu1":216,"vl1":207},
{"t":0.5,"iua":2.5,"ila":-0.5,"iza":2.3,"vu1":206,"vl1":214}
],
"g4": [
{"t":0,"iua":7,"ila":-1,"iza":7,"vu1":192,"vl1":222},
{"t":0.005,"iua":-3,"ila":-8,"iza":-3.5,"vu1":201,"vl1":200},
{"t":0.01,"iua":6,"ila":5,"iza":5.5,"vu1":214,"vl1":180},
{"t":0.015,"iua":-5,"ila":6,"iza":-2,"vu1":200,"vl1":201},
{"t":0.02,"iua":5,"ila":-4,"iza":6,"vu1":184,"vl1":218},
{"t":0.025,"iua":-4,"ila":6,"iza":-2.5,"vu1":201,"vl1":199},
{"t":0.03,"iua":6,"ila":-5,"iza":5,"vu1":223,"vl1":184},
{"t":0.035,"iua":-6,"ila":4,"iza":-1.5,"vu1":200,"vl1":200},
{"t":0.04,"iua":5,"ila":-3,"iza":5.5,"vu1":180,"vl1":216},
{"t":0.045,"iua":-4,"ila":7,"iza":-3,"vu1":200,"vl1":201},
{"t":0.05,"iua":7,"ila":-6,"iza":6.5,"vu1":222,"vl1":182},
{"t":0.055,"iua":-8,"ila":5,"iza":-4,"vu1":201,"vl1":200},
{"t":0.06,"iua":5,"ila":-2,"iza":5.5,"vu1":182,"vl1":220},
{"t":0.065,"iua":-3,"ila":6,"iza":-2,"vu1":200,"vl1":200},
{"t":0.07,"iua":6,"ila":-5,"iza":6,"vu1":214,"vl1":186},
{"t":0.075,"iua":-5,"ila":6,"iza":-1.5,"vu1":200,"vl1":200},
{"t":0.08,"iua":5,"ila":-3,"iza":5,"vu1":188,"vl1":214},
{"t":0.085,"iua":-4,"ila":5,"iza":-2.5,"vu1":200,"vl1":200},
{"t":0.09,"iua":6,"ila":-6,"iza":6,"vu1":216,"vl1":186},
{"t":0.095,"iua":-7,"ila":5,"iza":-2,"vu1":200,"vl1":200},
{"t":0.1,"iua":6,"ila":-3,"iza":7,"vu1":186,"vl1":212},
{"t":0.105,"iua":7,"ila":-1,"iza":1,"vu1":200,"vl1":200},
{"t":0.11,"iua":2.2,"ila":2.5,"iza":3.2,"vu1":206,"vl1":194},
{"t":0.115,"iua":-1,"ila":6,"iza":1,"vu1":200,"vl1":200},
{"t":0.12,"iua":2.2,"ila":2.5,"iza":3.2,"vu1":194,"vl1":206},
{"t":0.125,"iua":5.5,"ila":-1,"iza":1,"vu1":200,"vl1":200},
{"t":0.13,"iua":2.2,"ila":2.5,"iza":3.2,"vu1":206,"vl1":194},
{"t":0.135,"iua":-1,"ila":6,"iza":1,"vu1":200,"vl1":200},
{"t":0.14,"iua":2.2,"ila":2.5,"iza":3.2,"vu1":194,"vl1":206},
{"t":0.145,"iua":5.5,"ila":-1,"iza":1,"vu1":200,"vl1":200},
{"t":0.15,"iua":2.2,"ila":2.5,"iza":3.2,"vu1":206,"vl1":194},
{"t":0.155,"iua":-1,"ila":6,"iza":1,"vu1":200,"vl1":200},
{"t":0.16,"iua":2.2,"ila":2.5,"iza":3.2,"vu1":194,"vl1":206},
{"t":0.165,"iua":5.5,"ila":-1,"iza":1,"vu1":200,"vl1":200},
{"t":0.17,"iua":2.2,"ila":2.5,"iza":3.2,"vu1":206,"vl1":194},
{"t":0.175,"iua":-1,"ila":6,"iza":1,"vu1":200,"vl1":200},
{"t":0.18,"iua":2.2,"ila":2.5,"iza":3.2,"vu1":194,"vl1":206},
{"t":0.185,"iua":5.5,"ila":-1,"iza":1,"vu1":200,"vl1":200},
{"t":0.19,"iua":2.2,"ila":2.5,"iza":3.2,"vu1":206,"vl1":194},
{"t":0.195,"iua":-1,"ila":6,"iza":1,"vu1":200,"vl1":200},
{"t":0.2,"iua":2.2,"ila":2.5,"iza":3.2,"vu1":194,"vl1":206},
{"t":0.205,"iua":5.5,"ila":-1,"iza":1,"vu1":200,"vl1":200},
{"t":0.21,"iua":2.2,"ila":2.5,"iza":3.2,"vu1":206,"vl1":194},
{"t":0.215,"iua":-1,"ila":6,"iza":1,"vu1":200,"vl1":200},
{"t":0.22,"iua":2.2,"ila":2.5,"iza":3.2,"vu1":194,"vl1":206},
{"t":0.225,"iua":5.5,"ila":-1,"iza":1,"vu1":200,"vl1":200},
{"t":0.23,"iua":2.2,"ila":2.5,"iza":3.2,"vu1":206,"vl1":194},
{"t":0.235,"iua":-1,"ila":6,"iza":1,"vu1":200,"vl1":200},
{"t":0.24,"iua":2.2,"ila":2.5,"iza":3.2,"vu1":194,"vl1":206},
{"t":0.245,"iua":5.5,"ila":-1,"iza":1,"vu1":200,"vl1":200},
{"t":0.25,"iua":2.2,"ila":2.5,"iza":3.2,"vu1":206,"vl1":194},
{"t":0.255,"iua":-1,"ila":6,"iza":1,"vu1":200,"vl1":200},
{"t":0.26,"iua":2.2,"ila":2.5,"iza":3.2,"vu1":194,"vl1":206},
{"t":0.265,"iua":5.5,"ila":-1,"iza":1,"vu1":200,"vl1":200},
{"t":0.27,"iua":2.2,"ila":2.5,"iza":3.2,"vu1":206,"vl1":194},
{"t":0.275,"iua":-1,"ila":6,"iza":1,"vu1":200,"vl1":200},
{"t":0.28,"iua":2.2,"ila":2.5,"iza":3.2,"vu1":194,"vl1":206},
{"t":0.285,"iua":5.5,"ila":-1,"iza":1,"vu1":200,"vl1":200},
{"t":0.29,"iua":2.2,"ila":2.5,"iza":3.2,"vu1":206,"vl1":194},
{"t":0.295,"iua":-1,"ila":6,"iza":1,"vu1":200,"vl1":200},
{"t":0.3,"iua":2.2,"ila":2.5,"iza":3.2,"vu1":194,"vl1":206},
{"t":0.305,"iua":10,"ila":-2,"iza":1,"vu1":206,"vl1":194},
{"t":0.31,"iua":2,"ila":-5,"iza":3,"vu1":233,"vl1":177},
{"t":0.315,"iua":-3,"ila":4,"iza":-0.5,"vu1":212,"vl1":195},
{"t":0.32,"iua":1,"ila":0,"iza":2.8,"vu1":198,"vl1":208},
{"t":0.325,"iua":7,"ila":-3,"iza":-1,"vu1":207,"vl1":201},
{"t":0.33,"iua":1,"ila":0,"iza":2.8,"vu1":220,"vl1":192},
{"t":0.335,"iua":-3,"ila":5,"iza":-1,"vu1":209,"vl1":200},
{"t":0.34,"iua":1,"ila":2,"iza":2.8,"vu1":198,"vl1":210},
{"t":0.345,"iua":5,"ila":-1.5,"iza":-1,"vu1":207,"vl1":202},
{"t":0.35,"iua":1,"ila":2,"iza":2.8,"vu1":218,"vl1":195},
{"t":0.355,"iua":-3,"ila":6,"iza":-1,"vu1":207,"vl1":203},
{"t":0.36,"iua":1,"ila":2,"iza":2.8,"vu1":198,"vl1":210},
{"t":0.365,"iua":5,"ila":-1.5,"iza":-1,"vu1":207,"vl1":203},
{"t":0.37,"iua":1,"ila":2,"iza":2.8,"vu1":216,"vl1":196},
{"t":0.375,"iua":-3,"ila":6,"iza":-1,"vu1":207,"vl1":203},
{"t":0.38,"iua":1,"ila":2,"iza":2.8,"vu1":198,"vl1":210},
{"t":0.385,"iua":5,"ila":-1.5,"iza":-1,"vu1":207,"vl1":203},
{"t":0.39,"iua":1,"ila":2,"iza":2.8,"vu1":216,"vl1":196},
{"t":0.395,"iua":-3,"ila":6,"iza":-1,"vu1":207,"vl1":203},
{"t":0.4,"iua":1,"ila":2,"iza":2.8,"vu1":198,"vl1":210},
{"t":0.405,"iua":5,"ila":-1.5,"iza":-1,"vu1":207,"vl1":203},
{"t":0.41,"iua":1,"ila":2,"iza":2.8,"vu1":216,"vl1":196},
{"t":0.415,"iua":-3,"ila":6,"iza":-1,"vu1":207,"vl1":203},
{"t":0.42,"iua":1,"ila":2,"iza":2.8,"vu1":198,"vl1":210},
{"t":0.425,"iua":5,"ila":-1.5,"iza":-1,"vu1":207,"vl1":203},
{"t":0.43,"iua":1,"ila":2,"iza":2.8,"vu1":216,"vl1":196},
{"t":0.435,"iua":-3,"ila":6,"iza":-1,"vu1":207,"vl1":203},
{"t":0.44,"iua":1,"ila":2,"iza":2.8,"vu1":198,"vl1":210},
{"t":0.445,"iua":5,"ila":-1.5,"iza":-1,"vu1":207,"vl1":203},
{"t":0.45,"iua":1,"ila":2,"iza":2.8,"vu1":216,"vl1":196},
{"t":0.455,"iua":-3,"ila":6,"iza":-1,"vu1":207,"vl1":203},
{"t":0.46,"iua":1,"ila":2,"iza":2.8,"vu1":198,"vl1":210},
{"t":0.465,"iua":5,"ila":-1.5,"iza":-1,"vu1":207,"vl1":203},
{"t":0.47,"iua":1,"ila":2,"iza":2.8,"vu1":216,"vl1":196},
{"t":0.475,"iua":-3,"ila":6,"iza":-1,"vu1":207,"vl1":203},
{"t":0.48,"iua":1,"ila":2,"iza":2.8,"vu1":198,"vl1":210},
{"t":0.485,"iua":5,"ila":-1.5,"iza":-1,"vu1":207,"vl1":203},
{"t":0.49,"iua":1,"ila":2,"iza":2.8,"vu1":216,"vl1":196},
{"t":0.495,"iua":-3,"ila":6,"iza":-1,"vu1":207,"vl1":203},
{"t":0.5,"iua":1,"ila":2,"iza":2.8,"vu1":198,"vl1":210}
]
},
"resolve": {"scale": {"color": "independent"}, "legend": {"color": "independent"}},
"spacing": 13,
"vconcat": [
{"hconcat": [
 {"vconcat": [
  {"title": {"text": "Single-Cell-Based Injection", "subtitle": "Phase Voltages", "fontSize": 17, "subtitleFontSize": 11.5, "subtitlePadding": 4, "offset": -9, "dx": 6},
   "width": 264, "height": 53,
   "layer": [
    {"data": {"name": "pv"}, "transform": [{"fold": ["vao", "vbo", "vco"], "as": ["s", "v"]}],
     "mark": {"type": "line", "interpolate": "monotone"},
     "encoding": {"x": {"field": "t", "type": "quantitative", "scale": {"domain": [0, 0.5], "nice": false}, "axis": {"title": null, "format": "~g"}},
      "y": {"field": "v", "type": "quantitative", "scale": {"domain": [-500, 700], "nice": false}, "axis": {"values": [-500, 0, 500], "title": "Voltage [V]"}},
      "color": {"field": "s", "type": "nominal", "scale": {"domain": ["vao", "vbo", "vco"], "range": ["#f8b46c", "#5a95d5", "#63c663"]}, "legend": {"title": null, "orient": "none", "legendX": 212, "legendY": 10}}}},
    {"data": {"values": [{"t": 0.3, "v": 520}, {"t": 0.5, "v": 520}]}, "mark": {"type": "line", "color": "#ff5a5a", "strokeWidth": 1.8}, "encoding": {"x": {"field": "t", "type": "quantitative"}, "y": {"field": "v", "type": "quantitative"}}},
    {"data": {"values": [{"t": 0.3, "v": 520}]}, "mark": {"type": "point", "shape": "triangle-left", "filled": true, "size": 28, "color": "#ff2a2a", "opacity": 1}, "encoding": {"x": {"field": "t", "type": "quantitative"}, "y": {"field": "v", "type": "quantitative"}}},
    {"data": {"values": [{"t": 0.5, "v": 520}]}, "mark": {"type": "point", "shape": "triangle-right", "filled": true, "size": 28, "color": "#ff2a2a", "opacity": 1}, "encoding": {"x": {"field": "t", "type": "quantitative"}, "y": {"field": "v", "type": "quantitative"}}},
    {"data": {"values": [{"t": 0.4, "v": 870, "label": "fault"}]}, "mark": {"type": "text", "color": "#ff3b3b", "fontSize": 11}, "encoding": {"x": {"field": "t", "type": "quantitative"}, "y": {"field": "v", "type": "quantitative"}, "text": {"field": "label"}}}
   ]},
  {"title": "Phase Currents", "width": 264, "height": 43, "data": {"name": "pv"}, "transform": [{"fold": ["iao", "ibo", "ico"], "as": ["s", "v"]}],
   "mark": {"type": "line", "interpolate": "monotone"},
   "encoding": {"x": {"field": "t", "type": "quantitative", "scale": {"domain": [0, 0.5], "nice": false}, "axis": {"title": null, "format": "~g"}},
    "y": {"field": "v", "type": "quantitative", "scale": {"domain": [-15, 15], "nice": false}, "axis": {"values": [-10, 0, 10], "title": "Current [A]"}},
    "color": {"field": "s", "type": "nominal", "scale": {"domain": ["iao", "ibo", "ico"], "range": ["#f8b46c", "#5a95d5", "#63c663"]}, "legend": {"title": null, "orient": "none", "legendX": 212, "legendY": 1}}}},
  {"title": "Arm Currents", "width": 264, "height": 44, "data": {"name": "g1"}, "transform": [{"fold": ["iua", "ila"], "as": ["s", "v"]}],
   "mark": {"type": "line", "interpolate": "monotone"},
   "encoding": {"x": {"field": "t", "type": "quantitative", "scale": {"domain": [0, 0.5], "nice": false}, "axis": {"title": null, "format": "~g"}},
    "y": {"field": "v", "type": "quantitative", "scale": {"domain": [-15, 15], "nice": false}, "axis": {"values": [-10, 0, 10], "title": "Current [A]"}},
    "color": {"field": "s", "type": "nominal", "scale": {"domain": ["iua", "ila"], "range": ["#5a95d5", "#c48cf2"]}, "legend": {"title": null, "orient": "none", "legendX": 212, "legendY": 2}}}},
  {"title": "Circulating Current", "width": 264, "height": 44, "data": {"name": "g1"}, "transform": [{"fold": ["iza"], "as": ["s", "v"]}],
   "mark": {"type": "line", "interpolate": "monotone"},
   "encoding": {"x": {"field": "t", "type": "quantitative", "scale": {"domain": [0, 0.5], "nice": false}, "axis": {"title": null, "format": "~g"}},
    "y": {"field": "v", "type": "quantitative", "scale": {"domain": [-10, 10], "nice": false}, "axis": {"values": [-10, 0, 10], "title": "Current [A]"}},
    "color": {"field": "s", "type": "nominal", "scale": {"domain": ["iza"], "range": ["#d64d4d"]}, "legend": {"title": null, "orient": "none", "legendX": 212, "legendY": 4}}}},
  {"title": "Submodule Capacitor Voltages", "width": 264, "height": 44, "data": {"name": "g1"}, "transform": [{"fold": ["vu1", "vl1"], "as": ["s", "v"]}],
   "mark": {"type": "line", "interpolate": "monotone"},
   "encoding": {"x": {"field": "t", "type": "quantitative", "scale": {"domain": [0, 0.5], "nice": false}, "axis": {"title": "Time [s]", "format": "~g"}},
    "y": {"field": "v", "type": "quantitative", "scale": {"domain": [150, 250], "nice": false}, "axis": {"values": [150, 200, 250], "title": "Voltage [V]"}},
    "color": {"field": "s", "type": "nominal", "scale": {"domain": ["vu1", "vl1"], "range": ["#5a95d5", "#c48cf2"]}, "legend": {"title": null, "orient": "none", "legendX": 212, "legendY": 1}}}}
 ], "bounds": "flush", "spacing": 29, "resolve": {"scale": {"color": "independent"}, "legend": {"color": "independent"}}},
 {"vconcat": [
  {"title": {"text": "Direct Method [6]", "subtitle": "Phase Voltages", "fontSize": 17, "subtitleFontSize": 11.5, "subtitlePadding": 4, "offset": -9},
   "width": 264, "height": 53,
   "layer": [
    {"data": {"name": "pv"}, "transform": [{"fold": ["vao", "vbo", "vco"], "as": ["s", "v"]}],
     "mark": {"type": "line", "interpolate": "monotone"},
     "encoding": {"x": {"field": "t", "type": "quantitative", "scale": {"domain": [0, 0.5], "nice": false}, "axis": {"title": null, "format": "~g"}},
      "y": {"field": "v", "type": "quantitative", "scale": {"domain": [-500, 700], "nice": false}, "axis": {"values": [-500, 0, 500], "title": "Voltage [V]"}},
      "color": {"field": "s", "type": "nominal", "scale": {"domain": ["vao", "vbo", "vco"], "range": ["#f8b46c", "#5a95d5", "#63c663"]}, "legend": {"title": null, "orient": "none", "legendX": 212, "legendY": 10}}}},
    {"data": {"values": [{"t": 0.3, "v": 520}, {"t": 0.5, "v": 520}]}, "mark": {"type": "line", "color": "#ff5a5a", "strokeWidth": 1.8}, "encoding": {"x": {"field": "t", "type": "quantitative"}, "y": {"field": "v", "type": "quantitative"}}},
    {"data": {"values": [{"t": 0.3, "v": 520}]}, "mark": {"type": "point", "shape": "triangle-left", "filled": true, "size": 28, "color": "#ff2a2a", "opacity": 1}, "encoding": {"x": {"field": "t", "type": "quantitative"}, "y": {"field": "v", "type": "quantitative"}}},
    {"data": {"values": [{"t": 0.5, "v": 520}]}, "mark": {"type": "point", "shape": "triangle-right", "filled": true, "size": 28, "color": "#ff2a2a", "opacity": 1}, "encoding": {"x": {"field": "t", "type": "quantitative"}, "y": {"field": "v", "type": "quantitative"}}},
    {"data": {"values": [{"t": 0.4, "v": 870, "label": "fault"}]}, "mark": {"type": "text", "color": "#ff3b3b", "fontSize": 11}, "encoding": {"x": {"field": "t", "type": "quantitative"}, "y": {"field": "v", "type": "quantitative"}, "text": {"field": "label"}}}
   ]},
  {"title": "Phase Currents", "width": 264, "height": 43, "data": {"name": "pv"}, "transform": [{"fold": ["iao", "ibo", "ico"], "as": ["s", "v"]}],
   "mark": {"type": "line", "interpolate": "monotone"},
   "encoding": {"x": {"field": "t", "type": "quantitative", "scale": {"domain": [0, 0.5], "nice": false}, "axis": {"title": null, "format": "~g"}},
    "y": {"field": "v", "type": "quantitative", "scale": {"domain": [-15, 15], "nice": false}, "axis": {"values": [-10, 0, 10], "title": "Current [A]"}},
    "color": {"field": "s", "type": "nominal", "scale": {"domain": ["iao", "ibo", "ico"], "range": ["#f8b46c", "#5a95d5", "#63c663"]}, "legend": {"title": null, "orient": "none", "legendX": 212, "legendY": 1}}}},
  {"title": "Arm Currents", "width": 264, "height": 44, "data": {"name": "g2"}, "transform": [{"fold": ["iua", "ila"], "as": ["s", "v"]}],
   "mark": {"type": "line", "interpolate": "monotone"},
   "encoding": {"x": {"field": "t", "type": "quantitative", "scale": {"domain": [0, 0.5], "nice": false}, "axis": {"title": null, "format": "~g"}},
    "y": {"field": "v", "type": "quantitative", "scale": {"domain": [-15, 15], "nice": false}, "axis": {"values": [-10, 0, 10], "title": "Current [A]"}},
    "color": {"field": "s", "type": "nominal", "scale": {"domain": ["iua", "ila"], "range": ["#5a95d5", "#c48cf2"]}, "legend": {"title": null, "orient": "none", "legendX": 212, "legendY": 2}}}},
  {"title": "Circulating Current", "width": 264, "height": 44, "data": {"name": "g2"}, "transform": [{"fold": ["iza"], "as": ["s", "v"]}],
   "mark": {"type": "line", "interpolate": "monotone"},
   "encoding": {"x": {"field": "t", "type": "quantitative", "scale": {"domain": [0, 0.5], "nice": false}, "axis": {"title": null, "format": "~g"}},
    "y": {"field": "v", "type": "quantitative", "scale": {"domain": [-10, 10], "nice": false}, "axis": {"values": [-10, 0, 10], "title": "Current [A]"}},
    "color": {"field": "s", "type": "nominal", "scale": {"domain": ["iza"], "range": ["#d64d4d"]}, "legend": {"title": null, "orient": "none", "legendX": 212, "legendY": 4}}}},
  {"title": "Submodule Capacitor Voltages", "width": 264, "height": 44, "data": {"name": "g2"}, "transform": [{"fold": ["vu1", "vl1"], "as": ["s", "v"]}],
   "mark": {"type": "line", "interpolate": "monotone"},
   "encoding": {"x": {"field": "t", "type": "quantitative", "scale": {"domain": [0, 0.5], "nice": false}, "axis": {"title": "Time [s]", "format": "~g"}},
    "y": {"field": "v", "type": "quantitative", "scale": {"domain": [150, 250], "nice": false}, "axis": {"values": [150, 200, 250], "title": "Voltage [V]"}},
    "color": {"field": "s", "type": "nominal", "scale": {"domain": ["vu1", "vl1"], "range": ["#5a95d5", "#c48cf2"]}, "legend": {"title": null, "orient": "none", "legendX": 212, "legendY": 1}}}}
 ], "bounds": "flush", "spacing": 29, "resolve": {"scale": {"color": "independent"}, "legend": {"color": "independent"}}}
], "spacing": 28, "resolve": {"scale": {"color": "independent"}, "legend": {"color": "independent"}}},
{"hconcat": [
 {"vconcat": [
  {"title": {"text": "Injection Method [22]", "subtitle": "Phase Voltages", "fontSize": 17, "subtitleFontSize": 11.5, "subtitlePadding": 4, "offset": -9},
   "width": 264, "height": 53,
   "layer": [
    {"data": {"name": "pv"}, "transform": [{"fold": ["vao", "vbo", "vco"], "as": ["s", "v"]}],
     "mark": {"type": "line", "interpolate": "monotone"},
     "encoding": {"x": {"field": "t", "type": "quantitative", "scale": {"domain": [0, 0.5], "nice": false}, "axis": {"title": null, "format": "~g"}},
      "y": {"field": "v", "type": "quantitative", "scale": {"domain": [-500, 700], "nice": false}, "axis": {"values": [-500, 0, 500], "title": "Voltage [V]"}},
      "color": {"field": "s", "type": "nominal", "scale": {"domain": ["vao", "vbo", "vco"], "range": ["#f8b46c", "#5a95d5", "#63c663"]}, "legend": {"title": null, "orient": "none", "legendX": 212, "legendY": 10}}}},
    {"data": {"values": [{"t": 0.3, "v": 520}, {"t": 0.5, "v": 520}]}, "mark": {"type": "line", "color": "#ff5a5a", "strokeWidth": 1.8}, "encoding": {"x": {"field": "t", "type": "quantitative"}, "y": {"field": "v", "type": "quantitative"}}},
    {"data": {"values": [{"t": 0.3, "v": 520}]}, "mark": {"type": "point", "shape": "triangle-left", "filled": true, "size": 28, "color": "#ff2a2a", "opacity": 1}, "encoding": {"x": {"field": "t", "type": "quantitative"}, "y": {"field": "v", "type": "quantitative"}}},
    {"data": {"values": [{"t": 0.5, "v": 520}]}, "mark": {"type": "point", "shape": "triangle-right", "filled": true, "size": 28, "color": "#ff2a2a", "opacity": 1}, "encoding": {"x": {"field": "t", "type": "quantitative"}, "y": {"field": "v", "type": "quantitative"}}},
    {"data": {"values": [{"t": 0.4, "v": 870, "label": "fault"}]}, "mark": {"type": "text", "color": "#ff3b3b", "fontSize": 11}, "encoding": {"x": {"field": "t", "type": "quantitative"}, "y": {"field": "v", "type": "quantitative"}, "text": {"field": "label"}}}
   ]},
  {"title": "Phase Currents", "width": 264, "height": 43, "data": {"name": "pv"}, "transform": [{"fold": ["iao", "ibo", "ico"], "as": ["s", "v"]}],
   "mark": {"type": "line", "interpolate": "monotone"},
   "encoding": {"x": {"field": "t", "type": "quantitative", "scale": {"domain": [0, 0.5], "nice": false}, "axis": {"title": null, "format": "~g"}},
    "y": {"field": "v", "type": "quantitative", "scale": {"domain": [-15, 15], "nice": false}, "axis": {"values": [-10, 0, 10], "title": "Current [A]"}},
    "color": {"field": "s", "type": "nominal", "scale": {"domain": ["iao", "ibo", "ico"], "range": ["#f8b46c", "#5a95d5", "#63c663"]}, "legend": {"title": null, "orient": "none", "legendX": 212, "legendY": 1}}}},
  {"title": "Arm Currents", "width": 264, "height": 44, "data": {"name": "g3"}, "transform": [{"fold": ["iua", "ila"], "as": ["s", "v"]}],
   "mark": {"type": "line", "interpolate": "monotone"},
   "encoding": {"x": {"field": "t", "type": "quantitative", "scale": {"domain": [0, 0.5], "nice": false}, "axis": {"title": null, "format": "~g"}},
    "y": {"field": "v", "type": "quantitative", "scale": {"domain": [-15, 15], "nice": false}, "axis": {"values": [-10, 0, 10], "title": "Current [A]"}},
    "color": {"field": "s", "type": "nominal", "scale": {"domain": ["iua", "ila"], "range": ["#5a95d5", "#c48cf2"]}, "legend": {"title": null, "orient": "none", "legendX": 212, "legendY": 2}}}},
  {"title": "Circulating Current", "width": 264, "height": 44, "data": {"name": "g3"}, "transform": [{"fold": ["iza"], "as": ["s", "v"]}],
   "mark": {"type": "line", "interpolate": "monotone"},
   "encoding": {"x": {"field": "t", "type": "quantitative", "scale": {"domain": [0, 0.5], "nice": false}, "axis": {"title": null, "format": "~g"}},
    "y": {"field": "v", "type": "quantitative", "scale": {"domain": [-10, 10], "nice": false}, "axis": {"values": [-10, 0, 10], "title": "Current [A]"}},
    "color": {"field": "s", "type": "nominal", "scale": {"domain": ["iza"], "range": ["#d64d4d"]}, "legend": {"title": null, "orient": "none", "legendX": 212, "legendY": 4}}}},
  {"title": "Submodule Capacitor Voltages", "width": 264, "height": 44, "data": {"name": "g3"}, "transform": [{"fold": ["vu1", "vl1"], "as": ["s", "v"]}],
   "mark": {"type": "line", "interpolate": "monotone"},
   "encoding": {"x": {"field": "t", "type": "quantitative", "scale": {"domain": [0, 0.5], "nice": false}, "axis": {"title": "Time [s]", "format": "~g"}},
    "y": {"field": "v", "type": "quantitative", "scale": {"domain": [150, 250], "nice": false}, "axis": {"values": [150, 200, 250], "title": "Voltage [V]"}},
    "color": {"field": "s", "type": "nominal", "scale": {"domain": ["vu1", "vl1"], "range": ["#5a95d5", "#c48cf2"]}, "legend": {"title": null, "orient": "none", "legendX": 212, "legendY": 1}}}}
 ], "bounds": "flush", "spacing": 29, "resolve": {"scale": {"color": "independent"}, "legend": {"color": "independent"}}},
 {"vconcat": [
  {"title": {"text": "Indirect Method [14]", "subtitle": "Phase Voltages", "fontSize": 17, "subtitleFontSize": 11.5, "subtitlePadding": 4, "offset": -9},
   "width": 264, "height": 53,
   "layer": [
    {"data": {"name": "pv"}, "transform": [{"fold": ["vao", "vbo", "vco"], "as": ["s", "v"]}],
     "mark": {"type": "line", "interpolate": "monotone"},
     "encoding": {"x": {"field": "t", "type": "quantitative", "scale": {"domain": [0, 0.5], "nice": false}, "axis": {"title": null, "format": "~g"}},
      "y": {"field": "v", "type": "quantitative", "scale": {"domain": [-500, 700], "nice": false}, "axis": {"values": [-500, 0, 500], "title": "Voltage [V]"}},
      "color": {"field": "s", "type": "nominal", "scale": {"domain": ["vao", "vbo", "vco"], "range": ["#f8b46c", "#5a95d5", "#63c663"]}, "legend": {"title": null, "orient": "none", "legendX": 212, "legendY": 10}}}},
    {"data": {"values": [{"t": 0.3, "v": 520}, {"t": 0.5, "v": 520}]}, "mark": {"type": "line", "color": "#ff5a5a", "strokeWidth": 1.8}, "encoding": {"x": {"field": "t", "type": "quantitative"}, "y": {"field": "v", "type": "quantitative"}}},
    {"data": {"values": [{"t": 0.3, "v": 520}]}, "mark": {"type": "point", "shape": "triangle-left", "filled": true, "size": 28, "color": "#ff2a2a", "opacity": 1}, "encoding": {"x": {"field": "t", "type": "quantitative"}, "y": {"field": "v", "type": "quantitative"}}},
    {"data": {"values": [{"t": 0.5, "v": 520}]}, "mark": {"type": "point", "shape": "triangle-right", "filled": true, "size": 28, "color": "#ff2a2a", "opacity": 1}, "encoding": {"x": {"field": "t", "type": "quantitative"}, "y": {"field": "v", "type": "quantitative"}}},
    {"data": {"values": [{"t": 0.4, "v": 870, "label": "fault"}]}, "mark": {"type": "text", "color": "#ff3b3b", "fontSize": 11}, "encoding": {"x": {"field": "t", "type": "quantitative"}, "y": {"field": "v", "type": "quantitative"}, "text": {"field": "label"}}}
   ]},
  {"title": "Phase Currents", "width": 264, "height": 43, "data": {"name": "pv"}, "transform": [{"fold": ["iao", "ibo", "ico"], "as": ["s", "v"]}],
   "mark": {"type": "line", "interpolate": "monotone"},
   "encoding": {"x": {"field": "t", "type": "quantitative", "scale": {"domain": [0, 0.5], "nice": false}, "axis": {"title": null, "format": "~g"}},
    "y": {"field": "v", "type": "quantitative", "scale": {"domain": [-15, 15], "nice": false}, "axis": {"values": [-10, 0, 10], "title": "Current [A]"}},
    "color": {"field": "s", "type": "nominal", "scale": {"domain": ["iao", "ibo", "ico"], "range": ["#f8b46c", "#5a95d5", "#63c663"]}, "legend": {"title": null, "orient": "none", "legendX": 212, "legendY": 1}}}},
  {"title": "Arm Currents", "width": 264, "height": 44, "data": {"name": "g4"}, "transform": [{"fold": ["iua", "ila"], "as": ["s", "v"]}],
   "mark": {"type": "line", "interpolate": "monotone"},
   "encoding": {"x": {"field": "t", "type": "quantitative", "scale": {"domain": [0, 0.5], "nice": false}, "axis": {"title": null, "format": "~g"}},
    "y": {"field": "v", "type": "quantitative", "scale": {"domain": [-15, 15], "nice": false}, "axis": {"values": [-10, 0, 10], "title": "Current [A]"}},
    "color": {"field": "s", "type": "nominal", "scale": {"domain": ["iua", "ila"], "range": ["#5a95d5", "#c48cf2"]}, "legend": {"title": null, "orient": "none", "legendX": 212, "legendY": 2}}}},
  {"title": "Circulating Current", "width": 264, "height": 44, "data": {"name": "g4"}, "transform": [{"fold": ["iza"], "as": ["s", "v"]}],
   "mark": {"type": "line", "interpolate": "monotone"},
   "encoding": {"x": {"field": "t", "type": "quantitative", "scale": {"domain": [0, 0.5], "nice": false}, "axis": {"title": null, "format": "~g"}},
    "y": {"field": "v", "type": "quantitative", "scale": {"domain": [-10, 10], "nice": false}, "axis": {"values": [-10, 0, 10], "title": "Current [A]"}},
    "color": {"field": "s", "type": "nominal", "scale": {"domain": ["iza"], "range": ["#d64d4d"]}, "legend": {"title": null, "orient": "none", "legendX": 212, "legendY": 4}}}},
  {"title": "Submodule Capacitor Voltages", "width": 264, "height": 44, "data": {"name": "g4"}, "transform": [{"fold": ["vu1", "vl1"], "as": ["s", "v"]}],
   "mark": {"type": "line", "interpolate": "monotone"},
   "encoding": {"x": {"field": "t", "type": "quantitative", "scale": {"domain": [0, 0.5], "nice": false}, "axis": {"title": "Time [s]", "format": "~g"}},
    "y": {"field": "v", "type": "quantitative", "scale": {"domain": [150, 250], "nice": false}, "axis": {"values": [150, 200, 250], "title": "Voltage [V]"}},
    "color": {"field": "s", "type": "nominal", "scale": {"domain": ["vu1", "vl1"], "range": ["#5a95d5", "#c48cf2"]}, "legend": {"title": null, "orient": "none", "legendX": 212, "legendY": 1}}}}
 ], "bounds": "flush", "spacing": 29, "resolve": {"scale": {"color": "independent"}, "legend": {"color": "independent"}}}
], "spacing": 28, "resolve": {"scale": {"color": "independent"}, "legend": {"color": "independent"}}}
]
}
